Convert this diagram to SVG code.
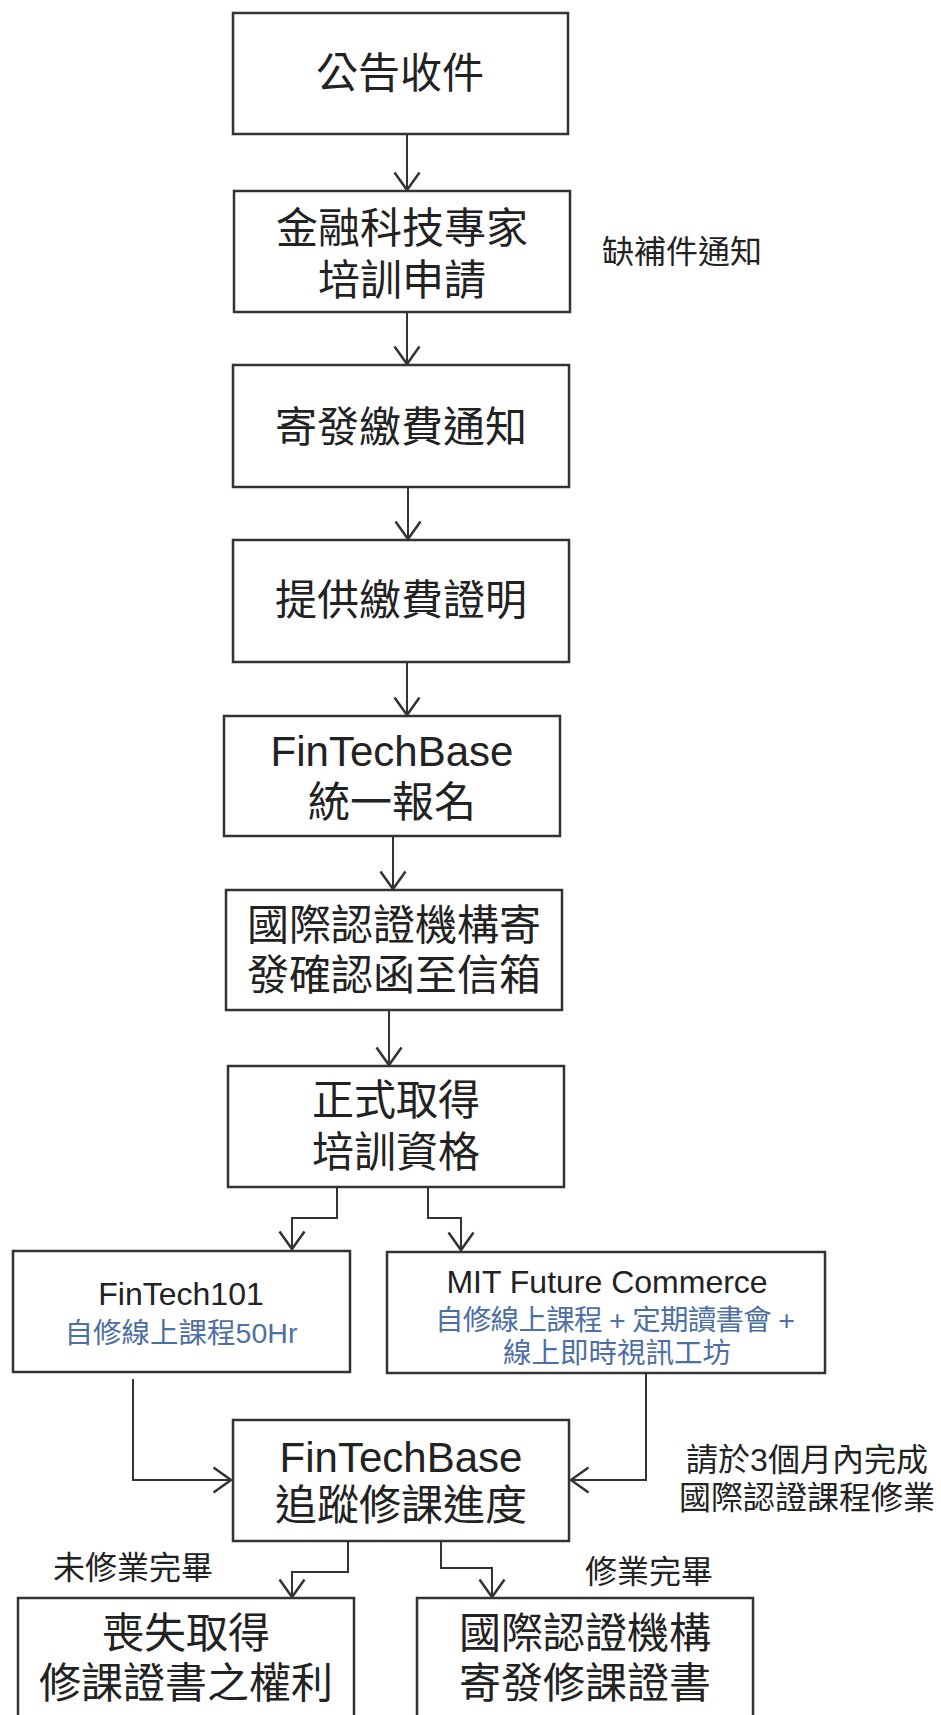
<svg xmlns="http://www.w3.org/2000/svg" width="941" height="1715" viewBox="0 0 941 1715">
  <defs>
    <marker id="arr" markerUnits="userSpaceOnUse" markerWidth="30" markerHeight="30" viewBox="-16 -12 20 24" refX="0" refY="0" orient="auto">
      <path d="M -14 -10 L 0 0 L -14 10" fill="none" stroke="#333" stroke-width="2"/>
    </marker>
  </defs>
  <style>
    .box { fill: #fff; stroke: #333; stroke-width: 2.5; }
    .t { font-family: "Liberation Sans", "Noto Sans CJK TC", sans-serif; fill: #222; text-anchor: middle; dominant-baseline: central; }
    .big { font-size: 42px; }
    .sm { font-size: 32px; }
    .blue { fill: #4e6fa3; font-size: 28.5px; }
    .lbl { font-family: "Liberation Sans", "Noto Sans CJK TC", sans-serif; fill: #222; font-size: 32px; dominant-baseline: central; }
    .c { fill: none; stroke: #333; stroke-width: 2; marker-end: url(#arr); }
  </style>
  <rect width="941" height="1715" fill="#fff"/>

  <g id="connectors">
    <path class="c" d="M 407 134 L 407 190"/>
    <path class="c" d="M 407 312 L 407 364"/>
    <path class="c" d="M 408 487 L 408 539"/>
    <path class="c" d="M 407 662 L 407 715"/>
    <path class="c" d="M 393 836 L 393 889"/>
    <path class="c" d="M 389 1010 L 389 1065"/>
    <path class="c" d="M 337 1187 L 337 1218 L 292 1218 L 292 1249"/>
    <path class="c" d="M 428 1187 L 428 1218 L 461 1218 L 461 1250"/>
    <path class="c" d="M 133 1379 L 133 1480 L 231 1480"/>
    <path class="c" d="M 646 1373 L 646 1480 L 571 1480"/>
    <path class="c" d="M 348 1541 L 348 1572 L 292 1572 L 292 1597"/>
    <path class="c" d="M 441 1538 L 441 1568 L 492 1568 L 492 1597"/>
  </g>

  <g id="n1">
    <rect class="box" x="233" y="13" width="335" height="121"/>
    <text class="t big" x="400" y="73">公告收件</text>
  </g>
  <g id="n2">
    <rect class="box" x="234" y="191" width="336" height="121"/>
    <text class="t big"><tspan x="402" y="228">金融科技專家</tspan><tspan x="402" y="280">培訓申請</tspan></text>
  </g>
  <g id="label-missing">
    <text class="lbl" x="602" y="252">缺補件通知</text>
  </g>
  <g id="n3">
    <rect class="box" x="233" y="365" width="336" height="122"/>
    <text class="t big" x="401" y="427">寄發繳費通知</text>
  </g>
  <g id="n4">
    <rect class="box" x="233" y="540" width="336" height="122"/>
    <text class="t big" x="401" y="600">提供繳費證明</text>
  </g>
  <g id="n5">
    <rect class="box" x="224" y="716" width="336" height="120"/>
    <text class="t big"><tspan x="392" y="751">FinTechBase</tspan><tspan x="392" y="802">統一報名</tspan></text>
  </g>
  <g id="n6">
    <rect class="box" x="226" y="890" width="336" height="120"/>
    <text class="t big"><tspan x="394" y="925">國際認證機構寄</tspan><tspan x="394" y="975">發確認函至信箱</tspan></text>
  </g>
  <g id="n7">
    <rect class="box" x="228" y="1066" width="336" height="121"/>
    <text class="t big"><tspan x="396" y="1100">正式取得</tspan><tspan x="396" y="1152">培訓資格</tspan></text>
  </g>
  <g id="n8">
    <rect class="box" x="13" y="1251" width="337" height="121"/>
    <text class="t sm" font-size="32"><tspan x="181" y="1294">FinTech101</tspan><tspan class="blue" x="181" y="1333">自修線上課程50Hr</tspan></text>
  </g>
  <g id="n9">
    <rect class="box" x="387" y="1252" width="438" height="121"/>
    <text class="t sm"><tspan x="607" y="1282">MIT Future Commerce</tspan><tspan class="blue" x="615" y="1320" textLength="360" lengthAdjust="spacing">自修線上課程 + 定期讀書會 +</tspan><tspan class="blue" x="617" y="1353">線上即時視訊工坊</tspan></text>
  </g>
  <g id="n10">
    <rect class="box" x="233" y="1420" width="336" height="121"/>
    <text class="t big"><tspan x="401" y="1457">FinTechBase</tspan><tspan x="401" y="1505">追蹤修課進度</tspan></text>
  </g>
  <g id="label-deadline">
    <text class="t sm"><tspan x="807" y="1460">請於3個月內完成</tspan><tspan x="807" y="1498">國際認證課程修業</tspan></text>
  </g>
  <g id="label-incomplete">
    <text class="lbl" x="53" y="1568">未修業完畢</text>
  </g>
  <g id="label-complete">
    <text class="lbl" x="585" y="1572">修業完畢</text>
  </g>
  <g id="n11">
    <rect class="box" x="18" y="1598" width="336" height="140"/>
    <text class="t big"><tspan x="186" y="1633">喪失取得</tspan><tspan x="186" y="1683">修課證書之權利</tspan></text>
  </g>
  <g id="n12">
    <rect class="box" x="417" y="1598" width="336" height="140"/>
    <text class="t big"><tspan x="585" y="1633">國際認證機構</tspan><tspan x="585" y="1683">寄發修課證書</tspan></text>
  </g>
</svg>
